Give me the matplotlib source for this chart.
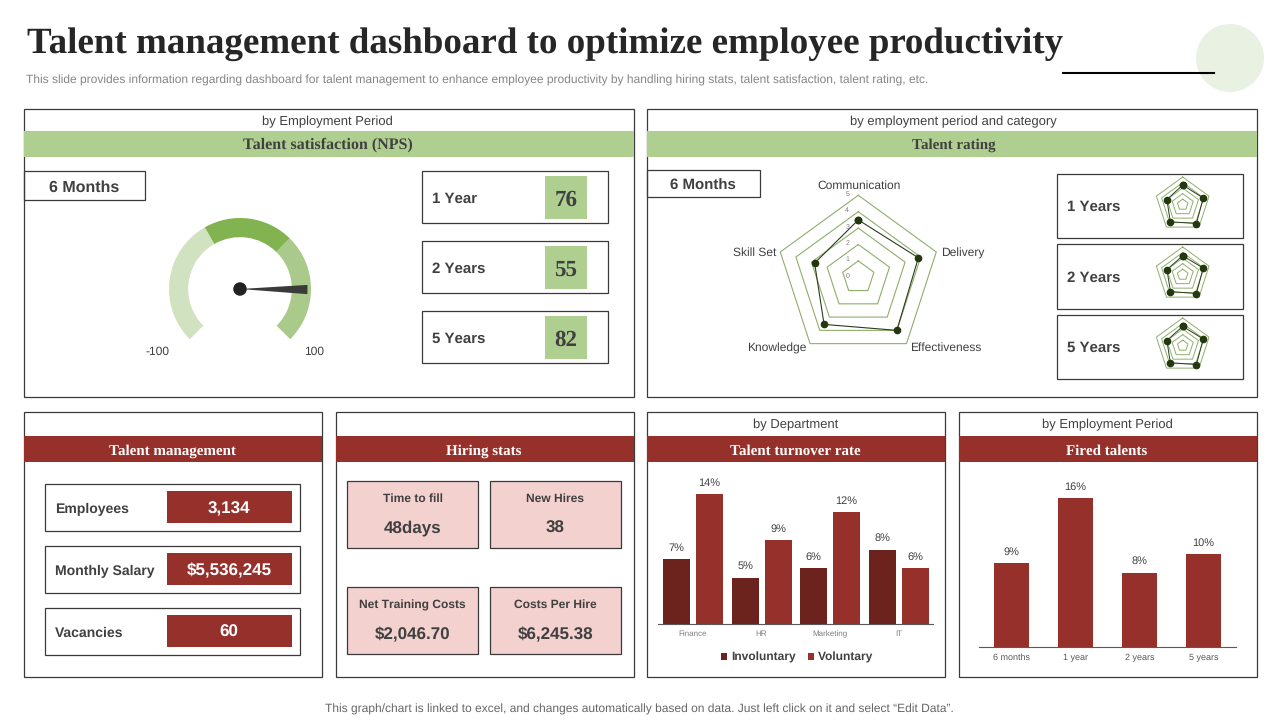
# Talent management dashboard slide

import numpy as np
import matplotlib
matplotlib.use('Agg')
import matplotlib.pyplot as plt
from matplotlib.patches import Rectangle, Circle

plt.rcParams['font.family'] = ['Liberation Sans', 'DejaVu Sans']
plt.rcParams['text.hinting'] = 'no_hinting'
plt.rcParams['text.hinting_factor'] = 1

# Gauge
gaugeBounds = [-100, -22, 33, 100]
gaugeValue = 67

# KPI boxes next to the gauge
npsPeriods = ['1 Year', '2 Years', '5 Years']
npsValues = [76, 55, 82]

# Radar charts
radarCats = ['Communication', 'Delivery', 'Effectiveness', 'Knowledge', 'Skill Set']
radarMain = [3.5, 3.85, 4.0, 3.55, 2.8]
radarPeriods = ['1 Years', '2 Years', '5 Years']
radar1y = [3.55, 3.9, 4.2, 3.8, 3.0]
radar2y = [3.4, 3.9, 4.2, 3.75, 3.0]
radar5y = [3.5, 3.9, 4.2, 3.8, 3.0]

# Talent management and hiring
mgmtLabels = ['Employees', 'Monthly Salary', 'Vacancies']
mgmtValues = ['3,134', '$5,536,245', '60']
hiringLabels = ['Time to fill', 'New Hires', 'Net Training Costs', 'Costs Per Hire']
hiringValues = ['48days', '38', '$2,046.70', '$6,245.38']

# Bar charts
depts = ['Finance', 'HR', 'Marketing', 'IT']
involuntary = [7, 5, 6, 8]
voluntary = [14, 9, 12, 6]
firedPeriods = ['6 months', '1 year', '2 years', '5 years']
firedValues = [9, 16, 8, 10]

GREEN = '#afcf90'
RED = '#96302a'
DARKRED = '#6c221d'
PINK = '#f3d1cf'
TEXT = '#404040'
EDGE = '#3a3a3a'

fig = plt.figure(figsize = (12.8, 7.2), dpi = 100)

# Background axes in pixel coordinates, for the panels and text
bg = fig.add_axes([0, 0, 1, 1], zorder = 0)
bg.set_xlim(0, 1280)
bg.set_ylim(720, 0)
bg.axis('off')

def pxAxes(x0, y0, x1, y1, polar = False):
    ax = fig.add_axes([x0 / 1280, 1 - y1 / 720, (x1 - x0) / 1280, (y1 - y0) / 720], zorder = 2, polar = polar)
    ax.patch.set_alpha(0)
    return ax

def box(x0, y0, x1, y1, face = 'none', edge = EDGE, lw = 0.9):
    bg.add_patch(Rectangle((x0, y0), x1 - x0, y1 - y0, facecolor = face, edgecolor = edge, linewidth = lw))

# y is the visual centre of the text, centre alignment sits a bit high
def label(x, y, s, size = 9, color = TEXT, weight = 'normal', ha = 'center', family = None):
    bg.text(x, y + 1.5, s, fontsize = size, color = color, fontweight = weight, ha = ha, va = 'center', family = family)

def serif(x, y, s, size = 11.0, color = TEXT):
    label(x, y, s, size = size, color = color, weight = 'bold', family = 'Liberation Serif')

# Header
bg.add_patch(Circle((1230, 58), 34, facecolor = '#e9f1e2', edgecolor = 'none'))
bg.plot([1063, 1214], [72.5, 72.5], color = 'black', linewidth = 1.5)
bg.text(27, 44, 'Talent management dashboard to optimize employee productivity', fontsize = 26.8, fontweight = 'bold',
        family = 'Liberation Serif', color = '#262626', ha = 'left', va = 'center')
label(26, 79, 'This slide provides information regarding dashboard for talent management to enhance employee productivity by handling hiring stats, talent satisfaction, talent rating, etc.',
      size = 8.67, color = '#858585', ha = 'left')
label(639, 708, 'This graph/chart is linked to excel, and changes automatically based on data. Just left click on it and select \u201cEdit Data\u201d.',
      size = 8.7, color = '#666666')

# Panels
box(24, 109, 634, 397)
box(647, 109, 1257, 397)
box(24, 412, 322, 677)
box(336, 412, 634, 677)
box(647, 412, 945, 677)
box(959, 412, 1257, 677)

bg.add_patch(Rectangle((24, 131), 610, 26, facecolor = GREEN, edgecolor = 'none'))
bg.add_patch(Rectangle((647, 131), 610, 26, facecolor = GREEN, edgecolor = 'none'))
for x0, x1 in [(24, 322), (336, 634), (647, 945), (959, 1257)]:
    bg.add_patch(Rectangle((x0, 436), x1 - x0, 26, facecolor = RED, edgecolor = 'none'))

label(327.5, 120.5, 'by Employment Period', size = 9.35)
label(953.5, 120.5, 'by employment period and category', size = 9.4)
label(796, 423.5, 'by Department', size = 9.2)
label(1107, 423.5, 'by Employment Period', size = 9.35)
serif(328, 143.5, 'Talent satisfaction (NPS)', size = 11.3)
serif(954, 143.5, 'Talent rating')
serif(172, 449.5, 'Talent management', color = 'white')
serif(484, 449.5, 'Hiring stats', color = 'white')
serif(795, 449.5, 'Talent turnover rate', color = 'white')
serif(1107, 449.5, 'Fired talents', color = 'white')

# Gauge
box(24, 171, 145, 200)
label(84.5, 186, '6 Months', size = 11.2, weight = 'bold')

gauge = pxAxes(240 - 71, 289 - 71, 240 + 71, 289 + 71)
gaugeSpans = list(np.diff(gaugeBounds))
hidden = (gaugeBounds[-1] - gaugeBounds[0]) / 3
gauge.pie(gaugeSpans + [hidden], colors = ['#d0e2bf', '#82b351', '#a9ca8b', 'none'], startangle = 225,
          counterclock = False, radius = 1, wedgeprops = {'width': 0.27, 'linewidth': 0})
gauge.set_xlim(-1, 1)
gauge.set_ylim(-1, 1)
needleAngle = np.radians(225 - (gaugeValue - gaugeBounds[0]) / (gaugeBounds[-1] - gaugeBounds[0]) * 270)
tip = np.array([np.cos(needleAngle), np.sin(needleAngle)]) * 0.95
side = np.array([-np.sin(needleAngle), np.cos(needleAngle)]) * 0.065
gauge.fill([0, tip[0] + side[0], tip[0] - side[0]], [0, tip[1] + side[1], tip[1] - side[1]], color = '#3a3a3a', linewidth = 0)
gauge.add_patch(Circle((0, 0), 0.095, facecolor = '#222222', edgecolor = 'none'))
label(157, 350, '-100', size = 8.5)
label(314, 350, '100', size = 8.5)

for i, (period, val) in enumerate(zip(npsPeriods, npsValues)):
    y0 = 171 + i * 70
    box(422, y0, 608, y0 + 52)
    label(432, y0 + 26.5, period, size = 10.7, weight = 'bold', ha = 'left')
    bg.add_patch(Rectangle((545, y0 + 5), 42, 43, facecolor = GREEN, edgecolor = 'none'))
    serif(566, y0 + 28, str(val), size = 16.3)

# Radars
def radar(cx, cy, R, vals, msize, ringLw, small = False):
    ax = pxAxes(cx - R, cy - R, cx + R, cy + R, polar = True)
    ax.set_theta_zero_location('N')
    ax.set_theta_direction(-1)
    ax.set_ylim(0, 5)
    ax.axis('off')
    angles = np.arange(len(vals)) * 2 * np.pi / len(vals)
    closed = np.append(angles, angles[0])
    for r in range(1, 6):
        ax.plot(closed, [r] * len(closed), color = '#8fae6c', linewidth = ringLw, clip_on = False)
    ax.plot(closed, list(vals) + [vals[0]], color = '#2c3a1e', linewidth = ringLw, marker = 'o',
            markersize = msize, markerfacecolor = '#24380f', markeredgecolor = '#24380f', clip_on = False)
    if not small:
        for r in range(0, 6):
            ax.annotate(str(r), (0, r), xytext = (-8, 1), textcoords = 'offset points', fontsize = 5,
                        color = '#7f7f7f', ha = 'center', va = 'center', annotation_clip = False)
    return ax, angles

box(647, 170, 760, 197)
label(702.5, 184, '6 Months', size = 10.6, weight = 'bold')
mainAx, mainAngles = radar(858.3, 277.3, 82, radarMain, 4.5, 0.8)
labelOffsets = [(0.5, 7.2, 'center'), (3.2, -0.7, 'left'), (2.2, -3.2, 'left'), (-2.5, -3.2, 'right'), (-3, -0.7, 'right')]
for cat, ang, (dx, dy, ha) in zip(radarCats, mainAngles, labelOffsets):
    mainAx.annotate(cat, (ang, 5), xytext = (dx, dy), textcoords = 'offset points', fontsize = 8.6, color = TEXT,
                    ha = ha, va = 'center', annotation_clip = False)

for i, (period, vals) in enumerate(zip(radarPeriods, [radar1y, radar2y, radar5y])):
    y0, y1 = [(174, 238), (244, 309), (315, 379)][i]
    box(1057, y0, 1243, y1)
    label(1067, (y0 + y1) / 2 - 0.5, period, size = 11, weight = 'bold', ha = 'left')
    radar(1182.7, y0 + 30.7, 27.7, vals, 4.5, 0.7, small = True)

# Talent management
for i, (name, val) in enumerate(zip(mgmtLabels, mgmtValues)):
    y0 = 484 + i * 62
    box(45, y0, 300, y0 + 47)
    label(55, y0 + 23.5, name, size = 9.8, weight = 'bold', ha = 'left')
    bg.add_patch(Rectangle((167, y0 + 7), 125, 31.5, facecolor = RED, edgecolor = 'none'))
    label(229, y0 + 23, val, size = 12, color = 'white', weight = 'bold')

# Hiring stats
hiringBoxes = [(347, 481), (490, 481), (347, 587), (490, 587)]
for (x0, y0), name, val in zip(hiringBoxes, hiringLabels, hiringValues):
    box(x0, y0, x0 + 131, y0 + 67, face = PINK)
    label(x0 + 65.5, y0 + 16.5, name, size = 8.5, weight = 'bold')
    label(x0 + 65.5, y0 + 46, val, size = 12, weight = 'bold')

# Talent turnover rate
turn = pxAxes(658, 470, 933, 624)
x = np.arange(len(depts))
barsA = turn.bar(x - 0.24, involuntary, 0.394, color = DARKRED, label = 'Involuntary')
barsB = turn.bar(x + 0.24, voluntary, 0.394, color = RED, label = 'Voluntary')
turn.set_xlim(-0.51, 3.5)
turn.set_ylim(0, 16.56)
turn.set_yticks([])
turn.set_xticks(x, depts)
turn.tick_params(axis = 'x', length = 0, labelsize = 6, labelcolor = '#7f7f7f', pad = 4.7)
for s in ['top', 'left', 'right']:
    turn.spines[s].set_visible(False)
turn.spines['bottom'].set_color('#595959')
for bars in [barsA, barsB]:
    for b in bars:
        turn.annotate(f'{b.get_height()}%', (b.get_x() + b.get_width() / 2, b.get_height()), xytext = (0, 8),
                      textcoords = 'offset points', fontsize = 8, color = TEXT, ha = 'center', va = 'center',
                      annotation_clip = False)
leg = turn.legend(loc = 'center', bbox_to_anchor = (797 / 1280, 1 - 657.5 / 720), bbox_transform = fig.transFigure,
                  ncol = 2, frameon = False, fontsize = 8.8, handlelength = 0.55, handleheight = 0.55,
                  handletextpad = 0.3, columnspacing = 1.0, borderpad = 0)
for t in leg.get_texts():
    t.set_fontweight('bold')
    t.set_color(TEXT)

# Fired talents
fired = pxAxes(979, 470, 1236, 647)
x = np.arange(len(firedPeriods))
bars = fired.bar(x, firedValues, 0.54, color = RED)
fired.set_xlim(-0.508, 3.508)
fired.set_ylim(0, 19.03)
fired.set_yticks([])
fired.set_xticks(x, firedPeriods)
fired.tick_params(axis = 'x', length = 0, labelsize = 6.6, labelcolor = '#595959', pad = 4.7)
for s in ['top', 'left', 'right']:
    fired.spines[s].set_visible(False)
fired.spines['bottom'].set_color('#595959')
for b in bars:
    fired.annotate(f'{b.get_height()}%', (b.get_x() + b.get_width() / 2, b.get_height()), xytext = (0, 8),
                   textcoords = 'offset points', fontsize = 8, color = TEXT, ha = 'center', va = 'center',
                   annotation_clip = False)

fig.savefig('out.png', dpi = 100)
